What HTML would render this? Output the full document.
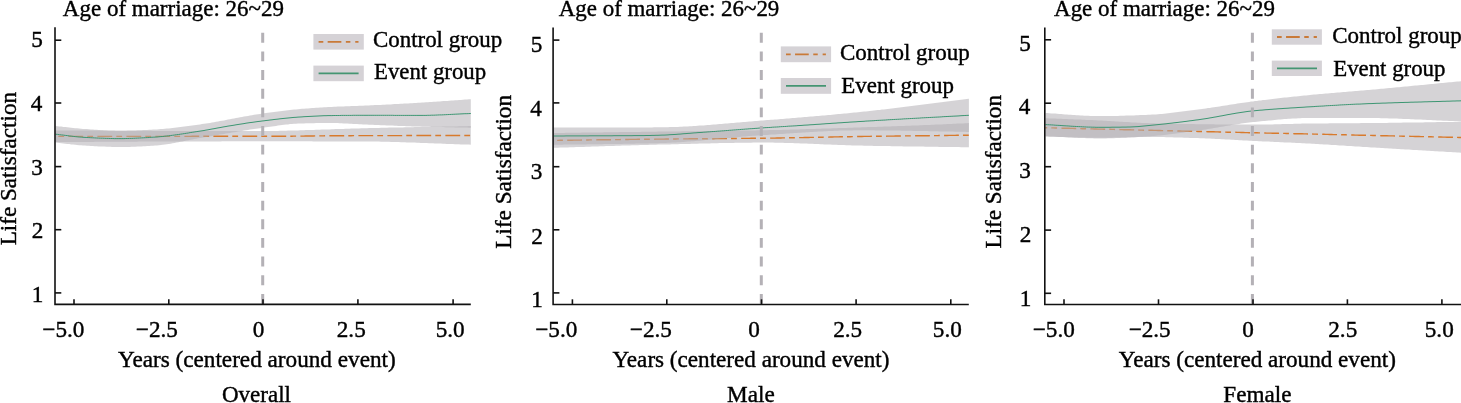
<!DOCTYPE html>
<html><head><meta charset="utf-8"><style>
html,body{margin:0;padding:0;background:#fff;overflow:hidden;}
svg{display:block;will-change:transform;}
text{fill:#000;stroke:#000;stroke-width:0.4px;font-family:"Liberation Serif",serif;}
</style></head><body>
<svg width="1461" height="403" viewBox="0 0 1461 403">
<rect width="1461" height="403" fill="#fff"/>
<polygon points="55.5,130.5 57.5,130.5 59.5,130.5 61.5,130.5 63.4,130.5 65.4,130.5 67.4,130.5 69.4,130.5 71.4,130.5 73.4,130.6 75.4,130.6 77.3,130.6 79.3,130.6 81.3,130.6 83.3,130.6 85.3,130.6 87.3,130.6 89.3,130.6 91.2,130.6 93.2,130.6 95.2,130.6 97.2,130.6 99.2,130.6 101.2,130.7 103.2,130.7 105.1,130.7 107.1,130.7 109.1,130.7 111.1,130.7 113.1,130.7 115.1,130.7 117.1,130.7 119.0,130.7 121.0,130.7 123.0,130.7 125.0,130.7 127.0,130.8 129.0,130.8 131.0,130.8 132.9,130.8 134.9,130.8 136.9,130.8 138.9,130.8 140.9,130.8 142.9,130.8 144.9,130.8 146.8,130.8 148.8,130.8 150.8,130.8 152.8,130.9 154.8,130.9 156.8,130.9 158.8,130.9 160.7,130.9 162.7,130.9 164.7,130.9 166.7,130.9 168.7,130.9 170.7,130.9 172.6,130.9 174.6,130.9 176.6,130.9 178.6,130.9 180.6,131.0 182.6,131.0 184.6,131.0 186.5,131.0 188.5,131.0 190.5,131.0 192.5,131.0 194.5,131.0 196.5,131.0 198.5,131.0 200.4,131.0 202.4,131.0 204.4,131.0 206.4,131.0 208.4,131.0 210.4,131.0 212.4,131.0 214.3,131.0 216.3,131.0 218.3,131.1 220.3,131.1 222.3,131.1 224.3,131.1 226.3,131.1 228.2,131.1 230.2,131.1 232.2,131.1 234.2,131.1 236.2,131.1 238.2,131.1 240.2,131.1 242.1,131.1 244.1,131.1 246.1,131.1 248.1,131.1 250.1,131.1 252.1,131.1 254.1,131.1 256.0,131.1 258.0,131.1 260.0,131.1 262.0,131.1 264.0,131.1 266.0,131.1 268.0,131.1 270.0,131.0 272.0,131.0 274.0,131.0 276.0,130.9 278.0,130.9 280.0,130.8 282.0,130.8 284.0,130.7 286.0,130.7 288.0,130.6 290.0,130.6 292.0,130.5 294.0,130.5 296.0,130.4 298.0,130.4 300.0,130.3 302.0,130.2 303.9,130.2 305.9,130.1 307.9,130.1 309.8,130.0 311.8,130.0 313.8,129.9 315.8,129.8 317.7,129.8 319.7,129.7 321.7,129.6 323.6,129.6 325.6,129.5 327.6,129.4 329.5,129.4 331.5,129.3 333.5,129.2 335.5,129.1 337.4,129.1 339.4,129.0 341.4,128.9 343.3,128.9 345.3,128.8 347.3,128.7 349.2,128.7 351.2,128.6 353.2,128.5 355.2,128.5 357.1,128.4 359.1,128.4 361.1,128.3 363.0,128.3 365.0,128.2 367.0,128.2 369.0,128.1 371.0,128.1 373.0,128.0 375.0,128.0 377.0,127.9 379.0,127.9 381.0,127.8 383.0,127.8 385.0,127.7 387.0,127.7 389.0,127.6 391.0,127.6 392.9,127.6 394.9,127.5 396.9,127.5 398.9,127.4 400.9,127.4 402.9,127.4 404.9,127.3 406.9,127.3 408.9,127.2 410.9,127.2 412.9,127.2 414.9,127.1 416.9,127.1 418.9,127.1 420.9,127.0 422.9,127.0 424.9,127.0 426.9,126.9 428.9,126.9 430.9,126.8 432.9,126.8 434.9,126.8 436.9,126.7 438.9,126.7 440.9,126.7 442.9,126.6 444.8,126.6 446.8,126.6 448.8,126.5 450.8,126.5 452.8,126.4 454.8,126.4 456.8,126.4 458.8,126.3 460.8,126.3 462.8,126.3 464.8,126.2 466.8,126.2 468.8,126.1 470.8,126.1 470.8,144.7 468.8,144.6 466.8,144.6 464.8,144.5 462.8,144.4 460.8,144.4 458.8,144.3 456.8,144.2 454.8,144.2 452.8,144.1 450.8,144.0 448.8,143.9 446.8,143.9 444.8,143.8 442.9,143.7 440.9,143.6 438.9,143.6 436.9,143.5 434.9,143.4 432.9,143.3 430.9,143.2 428.9,143.2 426.9,143.1 424.9,143.0 422.9,142.9 420.9,142.9 418.9,142.8 416.9,142.7 414.9,142.6 412.9,142.6 410.9,142.5 408.9,142.4 406.9,142.4 404.9,142.3 402.9,142.2 400.9,142.2 398.9,142.1 396.9,142.1 394.9,142.0 392.9,141.9 391.0,141.9 389.0,141.8 387.0,141.8 385.0,141.8 383.0,141.7 381.0,141.7 379.0,141.6 377.0,141.6 375.0,141.6 373.0,141.6 371.0,141.5 369.0,141.5 367.0,141.5 365.0,141.5 363.0,141.5 361.0,141.5 359.1,141.5 357.1,141.5 355.1,141.5 353.1,141.5 351.1,141.5 349.2,141.4 347.2,141.4 345.2,141.4 343.2,141.4 341.2,141.4 339.2,141.4 337.3,141.4 335.3,141.4 333.3,141.4 331.3,141.4 329.3,141.4 327.4,141.4 325.4,141.4 323.4,141.4 321.4,141.4 319.4,141.4 317.5,141.4 315.5,141.4 313.5,141.4 311.5,141.3 309.5,141.3 307.6,141.3 305.6,141.3 303.6,141.3 301.6,141.3 299.6,141.3 297.7,141.3 295.7,141.3 293.7,141.3 291.7,141.3 289.7,141.3 287.8,141.3 285.8,141.3 283.8,141.3 281.8,141.3 279.8,141.3 277.8,141.3 275.9,141.3 273.9,141.3 271.9,141.3 269.9,141.3 267.9,141.3 266.0,141.3 264.0,141.3 262.0,141.3 260.0,141.3 258.0,141.3 256.0,141.3 254.1,141.3 252.1,141.3 250.1,141.3 248.1,141.3 246.1,141.3 244.1,141.3 242.1,141.3 240.2,141.3 238.2,141.3 236.2,141.3 234.2,141.3 232.2,141.3 230.2,141.3 228.2,141.3 226.3,141.3 224.3,141.3 222.3,141.3 220.3,141.4 218.3,141.4 216.3,141.4 214.3,141.4 212.4,141.4 210.4,141.4 208.4,141.4 206.4,141.4 204.4,141.4 202.4,141.4 200.4,141.4 198.5,141.4 196.5,141.4 194.5,141.4 192.5,141.4 190.5,141.4 188.5,141.4 186.5,141.5 184.6,141.5 182.6,141.5 180.6,141.5 178.6,141.5 176.6,141.5 174.6,141.5 172.6,141.5 170.7,141.5 168.7,141.5 166.7,141.5 164.7,141.5 162.7,141.5 160.7,141.6 158.8,141.6 156.8,141.6 154.8,141.6 152.8,141.6 150.8,141.6 148.8,141.6 146.8,141.6 144.9,141.6 142.9,141.6 140.9,141.6 138.9,141.6 136.9,141.7 134.9,141.7 132.9,141.7 131.0,141.7 129.0,141.7 127.0,141.7 125.0,141.7 123.0,141.7 121.0,141.7 119.0,141.7 117.1,141.7 115.1,141.8 113.1,141.8 111.1,141.8 109.1,141.8 107.1,141.8 105.1,141.8 103.2,141.8 101.2,141.8 99.2,141.8 97.2,141.8 95.2,141.8 93.2,141.9 91.2,141.9 89.3,141.9 87.3,141.9 85.3,141.9 83.3,141.9 81.3,141.9 79.3,141.9 77.3,141.9 75.4,141.9 73.4,141.9 71.4,141.9 69.4,141.9 67.4,142.0 65.4,142.0 63.4,142.0 61.5,142.0 59.5,142.0 57.5,142.0 55.5,142.0" fill="#b1aeb3" fill-opacity="0.54"/>
<polyline points="55.5,136.4 57.5,136.4 59.5,136.4 61.5,136.4 63.4,136.4 65.4,136.4 67.4,136.4 69.4,136.4 71.4,136.4 73.4,136.4 75.4,136.4 77.3,136.4 79.3,136.4 81.3,136.4 83.3,136.4 85.3,136.4 87.3,136.4 89.3,136.4 91.2,136.4 93.2,136.4 95.2,136.4 97.2,136.4 99.2,136.4 101.2,136.4 103.2,136.4 105.1,136.4 107.1,136.4 109.1,136.4 111.1,136.4 113.1,136.4 115.1,136.4 117.1,136.4 119.0,136.4 121.0,136.4 123.0,136.4 125.0,136.4 127.0,136.4 129.0,136.4 131.0,136.4 132.9,136.4 134.9,136.4 136.9,136.4 138.9,136.4 140.9,136.4 142.9,136.4 144.9,136.4 146.8,136.4 148.8,136.4 150.8,136.4 152.8,136.4 154.8,136.4 156.8,136.4 158.8,136.4 160.7,136.4 162.7,136.4 164.7,136.4 166.7,136.4 168.7,136.4 170.7,136.4 172.6,136.4 174.6,136.4 176.6,136.4 178.6,136.4 180.6,136.4 182.6,136.4 184.6,136.4 186.5,136.4 188.5,136.4 190.5,136.4 192.5,136.3 194.5,136.3 196.5,136.3 198.5,136.3 200.4,136.3 202.4,136.3 204.4,136.3 206.4,136.3 208.4,136.3 210.4,136.3 212.4,136.3 214.3,136.3 216.3,136.3 218.3,136.3 220.3,136.3 222.3,136.3 224.3,136.3 226.3,136.3 228.2,136.3 230.2,136.3 232.2,136.3 234.2,136.3 236.2,136.3 238.2,136.3 240.2,136.3 242.1,136.3 244.1,136.3 246.1,136.3 248.1,136.3 250.1,136.3 252.1,136.3 254.1,136.3 256.0,136.3 258.0,136.3 260.0,136.3 262.0,136.3 264.0,136.3 266.0,136.3 267.9,136.3 269.9,136.3 271.9,136.3 273.9,136.3 275.9,136.3 277.8,136.2 279.8,136.2 281.8,136.2 283.8,136.2 285.8,136.2 287.8,136.2 289.7,136.2 291.7,136.2 293.7,136.1 295.7,136.1 297.7,136.1 299.6,136.1 301.6,136.1 303.6,136.1 305.6,136.0 307.6,136.0 309.5,136.0 311.5,136.0 313.5,136.0 315.5,135.9 317.5,135.9 319.4,135.9 321.4,135.9 323.4,135.9 325.4,135.8 327.4,135.8 329.3,135.8 331.3,135.8 333.3,135.8 335.3,135.8 337.3,135.7 339.2,135.7 341.2,135.7 343.2,135.7 345.2,135.7 347.2,135.7 349.2,135.7 351.1,135.7 353.1,135.6 355.1,135.6 357.1,135.6 359.1,135.6 361.0,135.6 363.0,135.6 365.0,135.6 367.0,135.6 369.0,135.6 371.0,135.6 373.0,135.6 375.0,135.6 377.0,135.6 379.0,135.6 381.0,135.6 383.0,135.6 385.0,135.6 387.0,135.6 389.0,135.6 391.0,135.6 392.9,135.6 394.9,135.6 396.9,135.6 398.9,135.6 400.9,135.6 402.9,135.6 404.9,135.6 406.9,135.5 408.9,135.5 410.9,135.5 412.9,135.5 414.9,135.5 416.9,135.5 418.9,135.5 420.9,135.5 422.9,135.5 424.9,135.5 426.9,135.5 428.9,135.5 430.9,135.5 432.9,135.5 434.9,135.5 436.9,135.5 438.9,135.5 440.9,135.5 442.9,135.5 444.8,135.5 446.8,135.5 448.8,135.5 450.8,135.5 452.8,135.5 454.8,135.5 456.8,135.5 458.8,135.5 460.8,135.5 462.8,135.5 464.8,135.5 466.8,135.5 468.8,135.5 470.8,135.5" fill="none" stroke="#d87a2c" stroke-width="1.4" stroke-dasharray="14.8 4.1 5.8 4.3" stroke-dashoffset="16.1"/>
<polygon points="55.5,126.0 57.5,126.2 59.4,126.4 61.4,126.6 63.4,126.9 65.3,127.1 67.3,127.3 69.3,127.5 71.2,127.7 73.2,127.9 75.2,128.2 77.1,128.3 79.1,128.5 81.1,128.7 83.0,128.9 85.0,129.0 86.9,129.1 88.9,129.3 90.8,129.4 92.8,129.5 94.7,129.7 96.7,129.8 98.6,129.9 100.6,130.0 102.5,130.1 104.4,130.2 106.4,130.3 108.3,130.4 110.3,130.5 112.2,130.6 114.2,130.6 116.1,130.7 118.1,130.7 120.0,130.7 121.9,130.7 123.9,130.7 125.8,130.7 127.8,130.6 129.7,130.6 131.7,130.5 133.6,130.5 135.6,130.4 137.5,130.3 139.4,130.2 141.4,130.2 143.3,130.1 145.3,130.0 147.2,129.9 149.2,129.8 151.1,129.7 153.1,129.6 155.0,129.5 157.0,129.4 158.9,129.3 160.9,129.1 162.8,129.0 164.8,128.8 166.7,128.6 168.7,128.4 170.7,128.2 172.6,128.0 174.6,127.8 176.5,127.5 178.5,127.3 180.4,127.1 182.4,126.8 184.3,126.5 186.3,126.3 188.3,126.0 190.2,125.7 192.2,125.5 194.1,125.2 196.1,124.9 198.0,124.7 200.0,124.4 202.0,124.1 204.0,123.8 206.0,123.5 208.0,123.2 210.0,122.9 212.0,122.5 214.0,122.2 216.0,121.8 218.0,121.5 220.0,121.1 222.0,120.8 224.0,120.4 226.0,120.0 228.0,119.6 230.0,119.2 232.0,118.8 234.0,118.5 236.0,118.1 238.0,117.7 240.0,117.3 242.0,116.9 244.0,116.6 246.0,116.2 248.0,115.9 250.0,115.5 252.0,115.2 254.0,114.8 256.0,114.5 258.0,114.2 260.0,113.9 262.0,113.6 264.0,113.3 266.0,113.0 268.0,112.8 270.0,112.5 272.0,112.2 274.0,111.9 276.0,111.7 278.0,111.4 280.0,111.2 282.0,110.9 284.0,110.7 286.0,110.4 288.0,110.2 290.0,110.0 292.0,109.8 294.0,109.6 296.0,109.4 298.0,109.2 300.0,109.0 302.0,108.8 304.0,108.7 306.0,108.5 308.0,108.4 310.0,108.2 312.0,108.1 314.0,107.9 316.0,107.8 318.0,107.7 320.0,107.6 322.0,107.4 324.0,107.3 326.0,107.2 328.0,107.1 330.0,107.0 331.9,106.9 333.9,106.8 335.8,106.7 337.8,106.6 339.7,106.6 341.7,106.5 343.6,106.4 345.6,106.3 347.5,106.3 349.4,106.2 351.4,106.1 353.3,106.1 355.3,106.0 357.2,105.9 359.2,105.8 361.1,105.8 363.1,105.7 365.0,105.6 367.0,105.5 368.9,105.4 370.9,105.3 372.9,105.2 374.8,105.1 376.8,105.0 378.8,105.0 380.7,104.9 382.7,104.8 384.6,104.7 386.6,104.6 388.6,104.5 390.5,104.4 392.5,104.3 394.5,104.1 396.4,104.0 398.4,103.9 400.4,103.8 402.3,103.7 404.3,103.6 406.2,103.5 408.2,103.4 410.2,103.3 412.1,103.2 414.1,103.0 416.1,102.9 418.0,102.8 420.0,102.7 422.0,102.6 423.9,102.5 425.9,102.3 427.8,102.2 429.8,102.1 431.7,102.0 433.7,101.8 435.6,101.7 437.6,101.6 439.5,101.4 441.5,101.3 443.4,101.1 445.4,101.0 447.4,100.9 449.3,100.7 451.3,100.6 453.2,100.4 455.2,100.3 457.1,100.2 459.1,100.0 461.0,99.9 463.0,99.7 464.9,99.6 466.9,99.5 468.8,99.3 470.8,99.2 470.8,127.7 468.8,127.7 466.9,127.6 464.9,127.6 463.0,127.5 461.0,127.5 459.1,127.5 457.1,127.4 455.2,127.4 453.2,127.3 451.3,127.3 449.3,127.3 447.4,127.2 445.4,127.2 443.4,127.1 441.5,127.1 439.5,127.1 437.6,127.0 435.6,127.0 433.7,126.9 431.7,126.9 429.8,126.8 427.8,126.8 425.9,126.8 423.9,126.7 422.0,126.7 420.0,126.6 418.0,126.5 416.1,126.5 414.1,126.4 412.1,126.4 410.2,126.3 408.2,126.2 406.2,126.2 404.3,126.1 402.3,126.0 400.4,125.9 398.4,125.9 396.4,125.8 394.5,125.7 392.5,125.6 390.5,125.6 388.6,125.5 386.6,125.4 384.6,125.3 382.7,125.2 380.7,125.2 378.8,125.1 376.8,125.0 374.8,124.9 372.9,124.8 370.9,124.7 368.9,124.7 367.0,124.6 365.0,124.5 363.1,124.4 361.1,124.3 359.2,124.2 357.2,124.1 355.3,124.0 353.3,123.9 351.4,123.8 349.4,123.7 347.5,123.6 345.6,123.5 343.6,123.4 341.7,123.3 339.7,123.2 337.8,123.1 335.8,123.1 333.9,123.0 331.9,123.0 330.0,123.0 328.0,123.0 326.0,123.0 324.0,123.0 322.0,123.0 320.0,123.1 318.0,123.1 316.0,123.1 314.0,123.2 312.0,123.2 310.0,123.2 308.0,123.3 306.0,123.3 304.0,123.4 302.0,123.4 300.0,123.5 298.0,123.6 296.0,123.7 294.0,123.8 292.0,124.0 290.0,124.1 288.0,124.4 286.0,124.6 284.0,124.8 282.0,125.1 280.0,125.3 278.0,125.6 276.0,125.9 274.0,126.2 272.0,126.5 270.0,126.8 268.0,127.1 266.0,127.3 264.0,127.6 262.0,127.9 260.0,128.2 258.0,128.4 256.0,128.7 254.0,129.0 252.0,129.3 250.0,129.6 248.0,129.9 246.0,130.2 244.0,130.6 242.0,130.9 240.0,131.2 238.0,131.5 236.0,131.9 234.0,132.2 232.0,132.5 230.0,132.9 228.0,133.2 226.0,133.6 224.0,133.9 222.0,134.2 220.0,134.6 218.0,134.9 216.0,135.3 214.0,135.6 212.0,136.0 210.0,136.3 208.0,136.7 206.0,137.0 204.0,137.3 202.0,137.7 200.0,138.0 198.0,138.3 196.1,138.7 194.1,139.0 192.2,139.4 190.2,139.8 188.3,140.2 186.3,140.6 184.3,141.0 182.4,141.4 180.4,141.8 178.5,142.2 176.5,142.6 174.6,142.9 172.6,143.3 170.7,143.7 168.7,144.0 166.7,144.3 164.8,144.6 162.8,144.8 160.9,145.1 158.9,145.3 157.0,145.5 155.0,145.6 153.1,145.7 151.1,145.8 149.2,146.0 147.2,146.1 145.3,146.2 143.3,146.3 141.4,146.4 139.4,146.5 137.5,146.6 135.6,146.7 133.6,146.7 131.7,146.8 129.7,146.9 127.8,146.9 125.8,146.9 123.9,147.0 121.9,147.0 120.0,147.0 118.1,147.0 116.1,147.0 114.2,146.9 112.2,146.9 110.3,146.8 108.3,146.8 106.4,146.7 104.4,146.6 102.5,146.6 100.6,146.5 98.6,146.4 96.7,146.3 94.7,146.2 92.8,146.1 90.8,145.9 88.9,145.8 86.9,145.7 85.0,145.6 83.0,145.5 81.1,145.3 79.1,145.2 77.1,145.0 75.2,144.8 73.2,144.6 71.2,144.4 69.3,144.1 67.3,143.9 65.3,143.7 63.4,143.5 61.4,143.2 59.4,143.0 57.5,142.8 55.5,142.6" fill="#b1aeb3" fill-opacity="0.54"/>
<polyline points="55.5,134.2 57.5,134.4 59.4,134.7 61.4,134.9 63.4,135.1 65.3,135.4 67.3,135.6 69.3,135.9 71.2,136.1 73.2,136.4 75.2,136.6 77.1,136.8 79.1,137.0 81.1,137.1 83.0,137.3 85.0,137.4 86.9,137.5 88.9,137.6 90.8,137.7 92.8,137.8 94.7,137.9 96.7,138.0 98.6,138.1 100.6,138.2 102.5,138.2 104.4,138.3 106.4,138.4 108.3,138.4 110.3,138.5 112.2,138.5 114.2,138.6 116.1,138.6 118.1,138.6 120.0,138.6 121.9,138.6 123.9,138.6 125.8,138.5 127.8,138.5 129.7,138.4 131.7,138.4 133.6,138.3 135.6,138.2 137.5,138.1 139.4,138.0 141.4,137.9 143.3,137.8 145.3,137.7 147.2,137.6 149.2,137.5 151.1,137.3 153.1,137.2 155.0,137.1 157.0,137.0 158.9,136.8 160.9,136.6 162.8,136.5 164.8,136.2 166.7,136.0 168.7,135.8 170.7,135.5 172.6,135.3 174.6,135.0 176.5,134.7 178.5,134.5 180.4,134.2 182.4,133.9 184.3,133.6 186.3,133.3 188.3,133.0 190.2,132.6 192.2,132.3 194.1,132.0 196.1,131.7 198.0,131.4 200.0,131.1 202.0,130.8 204.0,130.5 206.0,130.1 208.0,129.8 210.0,129.4 212.0,129.0 214.0,128.7 216.0,128.3 218.0,127.9 220.0,127.6 222.0,127.2 224.0,126.8 226.0,126.5 228.0,126.1 230.0,125.8 232.0,125.5 234.0,125.2 236.0,124.8 238.0,124.5 240.0,124.2 242.0,123.9 244.0,123.6 246.0,123.2 248.0,122.9 250.0,122.6 252.0,122.4 254.0,122.1 256.0,121.8 258.0,121.5 260.0,121.3 262.0,121.0 264.0,120.8 266.0,120.5 268.0,120.3 270.0,120.0 272.0,119.8 274.0,119.5 276.0,119.3 278.0,119.1 280.0,118.8 282.0,118.6 284.0,118.4 286.0,118.2 288.0,118.0 290.0,117.8 292.0,117.6 294.0,117.4 296.0,117.3 298.0,117.1 300.0,117.0 302.0,116.9 304.0,116.7 306.0,116.6 308.0,116.5 310.0,116.4 312.0,116.3 314.0,116.2 316.0,116.1 318.0,116.0 320.0,115.9 322.0,115.8 324.0,115.7 326.0,115.7 328.0,115.6 330.0,115.6 331.9,115.6 333.9,115.5 335.8,115.5 337.8,115.5 339.7,115.5 341.7,115.4 343.6,115.4 345.6,115.4 347.5,115.4 349.4,115.4 351.4,115.4 353.3,115.3 355.3,115.3 357.2,115.3 359.2,115.3 361.1,115.3 363.1,115.3 365.0,115.3 367.0,115.3 368.9,115.3 370.9,115.3 372.9,115.3 374.8,115.3 376.8,115.3 378.8,115.3 380.7,115.3 382.7,115.3 384.6,115.3 386.6,115.3 388.6,115.3 390.5,115.3 392.5,115.3 394.5,115.4 396.4,115.4 398.4,115.4 400.4,115.4 402.3,115.4 404.3,115.4 406.2,115.4 408.2,115.4 410.2,115.4 412.1,115.4 414.1,115.4 416.1,115.4 418.0,115.4 420.0,115.4 422.0,115.4 423.9,115.4 425.9,115.4 427.8,115.3 429.8,115.3 431.7,115.2 433.7,115.2 435.6,115.1 437.6,115.0 439.5,114.9 441.5,114.9 443.4,114.8 445.4,114.7 447.4,114.6 449.3,114.5 451.3,114.4 453.2,114.3 455.2,114.2 457.1,114.1 459.1,114.0 461.0,113.9 463.0,113.8 464.9,113.7 466.9,113.7 468.8,113.6 470.8,113.5" fill="none" stroke="#3c9672" stroke-width="1.0"/>
<line x1="262.7" y1="32.8" x2="262.7" y2="304.4" stroke="#b4b1b6" stroke-width="3" stroke-dasharray="9.9 8.75"/>
<path d="M55.0,27.2 V304.4 H470.8" fill="none" stroke="#111" stroke-width="1.6"/>
<line x1="55.0" y1="40.2" x2="61.3" y2="40.2" stroke="#111" stroke-width="1.6"/>
<line x1="55.0" y1="103.0" x2="61.3" y2="103.0" stroke="#111" stroke-width="1.6"/>
<line x1="55.0" y1="166.6" x2="61.3" y2="166.6" stroke="#111" stroke-width="1.6"/>
<line x1="55.0" y1="229.7" x2="61.3" y2="229.7" stroke="#111" stroke-width="1.6"/>
<line x1="55.0" y1="292.9" x2="61.3" y2="292.9" stroke="#111" stroke-width="1.6"/>
<line x1="74.0" y1="304.4" x2="74.0" y2="299.2" stroke="#111" stroke-width="1.6"/>
<line x1="168.8" y1="304.4" x2="168.8" y2="299.2" stroke="#111" stroke-width="1.6"/>
<line x1="263.0" y1="304.4" x2="263.0" y2="299.2" stroke="#111" stroke-width="1.6"/>
<line x1="357.9" y1="304.4" x2="357.9" y2="299.2" stroke="#111" stroke-width="1.6"/>
<line x1="453.1" y1="304.4" x2="453.1" y2="299.2" stroke="#111" stroke-width="1.6"/>
<text x="31.33" y="47.18" font-size="23.20">5</text>
<text x="30.75" y="110.56" font-size="23.20">4</text>
<text x="31.33" y="174.54" font-size="23.20">3</text>
<text x="31.68" y="238.26" font-size="23.20">2</text>
<text x="31.79" y="301.80" font-size="23.20">1</text>
<text x="42.33" y="336.70" font-size="23.20">−5.0</text>
<text x="135.83" y="336.70" font-size="23.20">−2.5</text>
<text x="252.70" y="336.70" font-size="23.20">0</text>
<text x="336.74" y="336.70" font-size="23.20">2.5</text>
<text x="435.67" y="336.70" font-size="23.20">5.0</text>
<text x="62.87" y="15.80" font-size="22.99">Age of marriage: 26~29</text>
<rect x="313.4" y="34.0" width="50.4" height="15.6" fill="#d5d2d6"/>
<line x1="318.59999999999997" y1="41.8" x2="358.5" y2="41.8" stroke="#c97a38" stroke-width="1.8" stroke-dasharray="4.7 4.35 13.7 4.5 4.5 4.9 14"/>
<rect x="313.4" y="65.6" width="50.4" height="15.6" fill="#d5d2d6"/>
<line x1="318.59999999999997" y1="73.39999999999999" x2="358.59999999999997" y2="73.39999999999999" stroke="#449572" stroke-width="1.7"/>
<text x="372.98" y="46.80" font-size="22.91">Control group</text>
<text x="374.02" y="79.00" font-size="22.81">Event group</text>
<text x="117.97" y="367.30" font-size="23.19">Years (centered around event)</text>
<text x="221.98" y="402.00" font-size="23.03">Overall</text>
<text transform="translate(15.90,245.29) rotate(-90)" x="0" y="0" font-size="23.10">Life Satisfaction</text>
<polygon points="554.0,133.0 556.0,133.0 558.0,132.9 560.0,132.9 562.0,132.9 564.0,132.9 566.0,132.8 568.0,132.8 570.0,132.8 572.0,132.8 574.0,132.7 576.0,132.7 578.0,132.7 580.0,132.7 582.0,132.6 584.0,132.6 586.0,132.6 588.0,132.6 590.0,132.5 592.0,132.5 594.0,132.5 596.0,132.4 598.0,132.4 600.0,132.4 602.0,132.4 604.0,132.3 606.0,132.3 608.0,132.3 610.0,132.3 612.0,132.2 614.0,132.2 616.0,132.2 618.0,132.2 620.0,132.1 622.0,132.1 624.0,132.1 626.0,132.1 628.0,132.0 630.0,132.0 632.0,132.0 634.0,131.9 636.0,131.9 638.0,131.9 640.0,131.9 642.0,131.8 644.0,131.8 646.0,131.8 648.0,131.8 650.0,131.7 652.0,131.7 654.0,131.7 656.0,131.7 658.0,131.6 660.0,131.6 662.0,131.6 664.0,131.5 665.9,131.5 667.9,131.5 669.9,131.5 671.9,131.4 673.9,131.4 675.8,131.4 677.8,131.4 679.8,131.4 681.8,131.3 683.8,131.3 685.8,131.3 687.7,131.3 689.7,131.2 691.7,131.2 693.7,131.2 695.7,131.2 697.6,131.1 699.6,131.1 701.6,131.1 703.6,131.1 705.6,131.1 707.5,131.0 709.5,131.0 711.5,131.0 713.5,131.0 715.5,130.9 717.5,130.9 719.4,130.9 721.4,130.9 723.4,130.8 725.4,130.8 727.4,130.8 729.3,130.8 731.3,130.7 733.3,130.7 735.3,130.7 737.3,130.6 739.2,130.6 741.2,130.6 743.2,130.6 745.2,130.5 747.2,130.5 749.2,130.5 751.1,130.4 753.1,130.4 755.1,130.4 757.1,130.3 759.1,130.3 761.0,130.3 763.0,130.2 765.0,130.2 767.0,130.2 769.0,130.1 770.9,130.1 772.9,130.0 774.9,130.0 776.9,130.0 778.9,129.9 780.8,129.9 782.8,129.8 784.8,129.8 786.8,129.7 788.8,129.7 790.7,129.6 792.7,129.6 794.7,129.5 796.7,129.4 798.6,129.4 800.6,129.3 802.6,129.3 804.6,129.2 806.6,129.1 808.5,129.1 810.5,129.0 812.5,129.0 814.5,128.9 816.5,128.8 818.4,128.8 820.4,128.7 822.4,128.6 824.4,128.6 826.4,128.5 828.3,128.4 830.3,128.4 832.3,128.3 834.3,128.3 836.2,128.2 838.2,128.1 840.2,128.1 842.2,128.0 844.2,127.9 846.1,127.9 848.1,127.8 850.1,127.7 852.1,127.7 854.1,127.6 856.0,127.5 858.0,127.5 860.0,127.4 862.0,127.3 864.0,127.3 866.0,127.2 868.0,127.1 870.0,127.1 872.0,127.0 874.0,126.9 876.0,126.9 878.0,126.8 880.0,126.7 882.0,126.7 884.0,126.6 886.0,126.5 888.0,126.5 890.0,126.4 892.0,126.3 894.0,126.3 896.0,126.2 898.0,126.1 900.0,126.1 902.0,126.0 904.0,125.9 906.0,125.8 908.0,125.8 910.0,125.7 912.0,125.6 914.0,125.5 916.0,125.5 918.0,125.4 920.0,125.3 922.0,125.2 923.9,125.1 925.9,125.1 927.8,125.0 929.8,124.9 931.7,124.8 933.7,124.7 935.6,124.6 937.6,124.5 939.6,124.5 941.5,124.4 943.5,124.3 945.4,124.2 947.4,124.1 949.3,124.0 951.3,123.9 953.3,123.8 955.2,123.7 957.2,123.6 959.1,123.5 961.1,123.5 963.0,123.4 965.0,123.3 966.9,123.2 968.9,123.1 968.9,147.3 966.9,147.3 964.9,147.2 963.0,147.2 961.0,147.2 959.0,147.1 957.0,147.1 955.0,147.1 953.1,147.1 951.1,147.0 949.1,147.0 947.1,147.0 945.1,147.0 943.2,146.9 941.2,146.9 939.2,146.9 937.2,146.8 935.2,146.8 933.3,146.8 931.3,146.8 929.3,146.7 927.3,146.7 925.3,146.7 923.4,146.6 921.4,146.6 919.4,146.6 917.4,146.6 915.4,146.5 913.5,146.5 911.5,146.5 909.5,146.5 907.5,146.4 905.5,146.4 903.6,146.4 901.6,146.3 899.6,146.3 897.6,146.3 895.6,146.2 893.7,146.2 891.7,146.2 889.7,146.1 887.7,146.1 885.7,146.1 883.8,146.0 881.8,146.0 879.8,146.0 877.8,145.9 875.8,145.9 873.9,145.9 871.9,145.8 869.9,145.8 867.9,145.8 865.9,145.7 864.0,145.7 862.0,145.6 860.0,145.6 858.0,145.6 856.0,145.5 854.1,145.5 852.1,145.4 850.1,145.3 848.1,145.3 846.1,145.2 844.2,145.1 842.2,145.1 840.2,145.0 838.2,144.9 836.2,144.8 834.3,144.8 832.3,144.7 830.3,144.6 828.3,144.5 826.4,144.4 824.4,144.4 822.4,144.3 820.4,144.2 818.4,144.1 816.5,144.0 814.5,143.9 812.5,143.8 810.5,143.8 808.5,143.7 806.6,143.6 804.6,143.5 802.6,143.4 800.6,143.4 798.6,143.3 796.7,143.2 794.7,143.2 792.7,143.1 790.7,143.0 788.8,143.0 786.8,142.9 784.8,142.9 782.8,142.8 780.8,142.8 778.9,142.7 776.9,142.7 774.9,142.7 772.9,142.6 770.9,142.6 769.0,142.6 767.0,142.6 765.0,142.6 763.0,142.6 761.0,142.6 759.1,142.6 757.1,142.6 755.1,142.6 753.1,142.6 751.1,142.7 749.2,142.7 747.2,142.7 745.2,142.7 743.2,142.7 741.2,142.8 739.2,142.8 737.3,142.8 735.3,142.8 733.3,142.9 731.3,142.9 729.3,142.9 727.4,143.0 725.4,143.0 723.4,143.1 721.4,143.1 719.4,143.1 717.5,143.2 715.5,143.2 713.5,143.3 711.5,143.3 709.5,143.4 707.5,143.4 705.6,143.5 703.6,143.5 701.6,143.6 699.6,143.6 697.6,143.7 695.7,143.7 693.7,143.8 691.7,143.8 689.7,143.9 687.7,143.9 685.8,144.0 683.8,144.0 681.8,144.1 679.8,144.1 677.8,144.2 675.8,144.2 673.9,144.3 671.9,144.3 669.9,144.4 667.9,144.4 665.9,144.5 664.0,144.5 662.0,144.6 660.0,144.6 658.0,144.6 656.0,144.7 654.0,144.7 652.0,144.8 650.0,144.8 648.0,144.9 646.0,145.0 644.0,145.0 642.0,145.1 640.0,145.1 638.0,145.2 636.0,145.2 634.0,145.3 632.0,145.3 630.0,145.4 628.0,145.5 626.0,145.5 624.0,145.6 622.0,145.6 620.0,145.7 618.0,145.8 616.0,145.8 614.0,145.9 612.0,146.0 610.0,146.0 608.0,146.1 606.0,146.1 604.0,146.2 602.0,146.3 600.0,146.3 598.0,146.4 596.0,146.5 594.0,146.5 592.0,146.6 590.0,146.7 588.0,146.7 586.0,146.8 584.0,146.9 582.0,146.9 580.0,147.0 578.0,147.0 576.0,147.1 574.0,147.2 572.0,147.2 570.0,147.3 568.0,147.4 566.0,147.4 564.0,147.5 562.0,147.6 560.0,147.6 558.0,147.7 556.0,147.7 554.0,147.8" fill="#b1aeb3" fill-opacity="0.54"/>
<polyline points="554.0,140.4 556.0,140.4 558.0,140.4 560.0,140.3 562.0,140.3 564.0,140.3 566.0,140.3 568.0,140.2 570.0,140.2 572.0,140.2 574.0,140.1 576.0,140.1 578.0,140.1 580.0,140.1 582.0,140.0 584.0,140.0 586.0,140.0 588.0,140.0 590.0,139.9 592.0,139.9 594.0,139.9 596.0,139.9 598.0,139.8 600.0,139.8 602.0,139.8 604.0,139.8 606.0,139.7 608.0,139.7 610.0,139.7 612.0,139.7 614.0,139.6 616.0,139.6 618.0,139.6 620.0,139.6 622.0,139.5 624.0,139.5 626.0,139.5 628.0,139.5 630.0,139.4 632.0,139.4 634.0,139.4 636.0,139.4 638.0,139.3 640.0,139.3 642.0,139.3 644.0,139.3 646.0,139.2 648.0,139.2 650.0,139.2 652.0,139.2 654.0,139.2 656.0,139.1 658.0,139.1 660.0,139.1 662.0,139.1 664.0,139.1 665.9,139.0 667.9,139.0 669.9,139.0 671.9,139.0 673.9,139.0 675.8,139.0 677.8,138.9 679.8,138.9 681.8,138.9 683.8,138.9 685.8,138.9 687.7,138.9 689.7,138.8 691.7,138.8 693.7,138.8 695.7,138.8 697.6,138.8 699.6,138.8 701.6,138.8 703.6,138.7 705.6,138.7 707.5,138.7 709.5,138.7 711.5,138.7 713.5,138.7 715.5,138.6 717.5,138.6 719.4,138.6 721.4,138.6 723.4,138.6 725.4,138.6 727.4,138.6 729.3,138.5 731.3,138.5 733.3,138.5 735.3,138.5 737.3,138.5 739.2,138.5 741.2,138.4 743.2,138.4 745.2,138.4 747.2,138.4 749.2,138.4 751.1,138.3 753.1,138.3 755.1,138.3 757.1,138.3 759.1,138.3 761.0,138.2 763.0,138.2 765.0,138.2 767.0,138.2 769.0,138.2 770.9,138.1 772.9,138.1 774.9,138.1 776.9,138.0 778.9,138.0 780.8,138.0 782.8,137.9 784.8,137.9 786.8,137.9 788.8,137.8 790.7,137.8 792.7,137.8 794.7,137.7 796.7,137.7 798.6,137.7 800.6,137.6 802.6,137.6 804.6,137.5 806.6,137.5 808.5,137.5 810.5,137.4 812.5,137.4 814.5,137.3 816.5,137.3 818.4,137.3 820.4,137.2 822.4,137.2 824.4,137.1 826.4,137.1 828.3,137.1 830.3,137.0 832.3,137.0 834.3,136.9 836.2,136.9 838.2,136.9 840.2,136.8 842.2,136.8 844.2,136.8 846.1,136.7 848.1,136.7 850.1,136.7 852.1,136.6 854.1,136.6 856.0,136.6 858.0,136.5 860.0,136.5 862.0,136.5 864.0,136.4 865.9,136.4 867.9,136.4 869.9,136.4 871.9,136.3 873.9,136.3 875.8,136.3 877.8,136.3 879.8,136.2 881.8,136.2 883.8,136.2 885.7,136.2 887.7,136.1 889.7,136.1 891.7,136.1 893.7,136.1 895.6,136.0 897.6,136.0 899.6,136.0 901.6,136.0 903.6,135.9 905.5,135.9 907.5,135.9 909.5,135.9 911.5,135.9 913.5,135.8 915.4,135.8 917.4,135.8 919.4,135.8 921.4,135.7 923.4,135.7 925.3,135.7 927.3,135.7 929.3,135.7 931.3,135.6 933.3,135.6 935.2,135.6 937.2,135.6 939.2,135.5 941.2,135.5 943.2,135.5 945.1,135.5 947.1,135.5 949.1,135.4 951.1,135.4 953.1,135.4 955.0,135.4 957.0,135.3 959.0,135.3 961.0,135.3 963.0,135.3 964.9,135.2 966.9,135.2 968.9,135.2" fill="none" stroke="#d87a2c" stroke-width="1.4" stroke-dasharray="14.8 4.1 5.8 4.3" stroke-dashoffset="15.8"/>
<polygon points="554.0,127.6 556.0,127.6 558.0,127.6 560.0,127.6 562.0,127.6 564.0,127.6 566.0,127.6 568.0,127.6 570.0,127.6 572.0,127.6 574.0,127.6 576.0,127.6 578.0,127.5 580.0,127.5 582.0,127.5 584.0,127.5 586.0,127.5 588.0,127.5 590.0,127.5 592.0,127.5 594.0,127.5 596.0,127.5 598.0,127.5 600.0,127.5 602.0,127.5 604.0,127.5 606.0,127.5 608.0,127.5 610.0,127.5 612.0,127.5 614.0,127.5 616.0,127.5 618.0,127.5 620.0,127.5 622.0,127.5 624.0,127.4 626.0,127.4 628.0,127.4 630.0,127.4 632.0,127.4 634.0,127.4 636.0,127.4 638.0,127.4 640.0,127.4 642.0,127.4 644.0,127.4 646.0,127.4 648.0,127.4 650.0,127.4 652.0,127.4 654.0,127.3 656.0,127.3 658.0,127.3 660.0,127.3 662.0,127.3 664.0,127.3 665.9,127.2 667.9,127.2 669.9,127.1 671.9,127.1 673.9,127.0 675.8,126.9 677.8,126.9 679.8,126.8 681.8,126.7 683.8,126.6 685.8,126.5 687.7,126.4 689.7,126.3 691.7,126.2 693.7,126.0 695.7,125.9 697.6,125.8 699.6,125.6 701.6,125.5 703.6,125.4 705.6,125.2 707.5,125.1 709.5,124.9 711.5,124.8 713.5,124.6 715.5,124.5 717.5,124.3 719.4,124.1 721.4,124.0 723.4,123.8 725.4,123.6 727.4,123.5 729.3,123.3 731.3,123.1 733.3,122.9 735.3,122.8 737.3,122.6 739.2,122.4 741.2,122.3 743.2,122.1 745.2,121.9 747.2,121.7 749.2,121.6 751.1,121.4 753.1,121.2 755.1,121.1 757.1,120.9 759.1,120.8 761.0,120.6 763.0,120.5 765.0,120.3 767.0,120.1 769.0,120.0 770.9,119.8 772.9,119.7 774.9,119.5 776.9,119.4 778.9,119.2 780.8,119.1 782.8,118.9 784.8,118.8 786.8,118.6 788.8,118.4 790.7,118.3 792.7,118.1 794.7,118.0 796.7,117.8 798.6,117.6 800.6,117.5 802.6,117.3 804.6,117.1 806.6,117.0 808.5,116.8 810.5,116.6 812.5,116.5 814.5,116.3 816.5,116.1 818.4,115.9 820.4,115.8 822.4,115.6 824.4,115.4 826.4,115.2 828.3,115.0 830.3,114.9 832.3,114.7 834.3,114.5 836.2,114.3 838.2,114.1 840.2,113.9 842.2,113.7 844.2,113.6 846.1,113.4 848.1,113.2 850.1,113.0 852.1,112.8 854.1,112.6 856.0,112.4 858.0,112.2 860.0,112.0 862.0,111.8 864.0,111.6 865.9,111.4 867.9,111.2 869.9,111.0 871.9,110.7 873.9,110.5 875.8,110.3 877.8,110.1 879.8,109.9 881.8,109.6 883.8,109.4 885.7,109.2 887.7,108.9 889.7,108.7 891.7,108.5 893.7,108.2 895.6,108.0 897.6,107.8 899.6,107.5 901.6,107.3 903.6,107.0 905.5,106.8 907.5,106.5 909.5,106.3 911.5,106.0 913.5,105.8 915.4,105.5 917.4,105.3 919.4,105.0 921.4,104.8 923.4,104.5 925.3,104.3 927.3,104.0 929.3,103.8 931.3,103.5 933.3,103.3 935.2,103.0 937.2,102.8 939.2,102.5 941.2,102.3 943.2,102.0 945.1,101.8 947.1,101.5 949.1,101.3 951.1,101.0 953.1,100.8 955.0,100.5 957.0,100.3 959.0,100.0 961.0,99.8 963.0,99.5 964.9,99.3 966.9,99.0 968.9,98.8 968.9,131.9 966.9,131.9 964.9,131.8 963.0,131.8 961.0,131.8 959.0,131.7 957.0,131.7 955.0,131.7 953.1,131.6 951.1,131.6 949.1,131.6 947.1,131.5 945.1,131.5 943.2,131.5 941.2,131.4 939.2,131.4 937.2,131.3 935.2,131.3 933.3,131.3 931.3,131.2 929.3,131.2 927.3,131.1 925.3,131.1 923.4,131.1 921.4,131.0 919.4,131.0 917.4,131.0 915.4,130.9 913.5,130.9 911.5,130.8 909.5,130.8 907.5,130.8 905.5,130.7 903.6,130.7 901.6,130.7 899.6,130.6 897.6,130.6 895.6,130.6 893.7,130.6 891.7,130.5 889.7,130.5 887.7,130.5 885.7,130.5 883.8,130.4 881.8,130.4 879.8,130.4 877.8,130.4 875.8,130.4 873.9,130.3 871.9,130.3 869.9,130.3 867.9,130.3 865.9,130.3 864.0,130.3 862.0,130.3 860.0,130.3 858.0,130.3 856.0,130.3 854.1,130.3 852.1,130.4 850.1,130.4 848.1,130.4 846.1,130.5 844.2,130.5 842.2,130.6 840.2,130.6 838.2,130.7 836.2,130.8 834.3,130.8 832.3,130.9 830.3,131.0 828.3,131.1 826.4,131.2 824.4,131.3 822.4,131.4 820.4,131.5 818.4,131.6 816.5,131.7 814.5,131.8 812.5,131.9 810.5,132.1 808.5,132.2 806.6,132.3 804.6,132.4 802.6,132.5 800.6,132.7 798.6,132.8 796.7,132.9 794.7,133.1 792.7,133.2 790.7,133.3 788.8,133.5 786.8,133.6 784.8,133.7 782.8,133.9 780.8,134.0 778.9,134.1 776.9,134.3 774.9,134.4 772.9,134.5 770.9,134.6 769.0,134.8 767.0,134.9 765.0,135.0 763.0,135.1 761.0,135.3 759.1,135.4 757.1,135.5 755.1,135.7 753.1,135.8 751.1,136.0 749.2,136.1 747.2,136.3 745.2,136.5 743.2,136.6 741.2,136.8 739.2,137.0 737.3,137.2 735.3,137.3 733.3,137.5 731.3,137.7 729.3,137.9 727.4,138.1 725.4,138.3 723.4,138.5 721.4,138.6 719.4,138.8 717.5,139.0 715.5,139.2 713.5,139.4 711.5,139.6 709.5,139.8 707.5,140.0 705.6,140.1 703.6,140.3 701.6,140.5 699.6,140.7 697.6,140.8 695.7,141.0 693.7,141.2 691.7,141.3 689.7,141.5 687.7,141.6 685.8,141.8 683.8,141.9 681.8,142.0 679.8,142.2 677.8,142.3 675.8,142.4 673.9,142.5 671.9,142.6 669.9,142.7 667.9,142.8 665.9,142.9 664.0,143.0 662.0,143.0 660.0,143.1 658.0,143.2 656.0,143.2 654.0,143.3 652.0,143.3 650.0,143.3 648.0,143.4 646.0,143.4 644.0,143.5 642.0,143.5 640.0,143.6 638.0,143.6 636.0,143.6 634.0,143.7 632.0,143.7 630.0,143.7 628.0,143.8 626.0,143.8 624.0,143.8 622.0,143.9 620.0,143.9 618.0,143.9 616.0,144.0 614.0,144.0 612.0,144.0 610.0,144.0 608.0,144.1 606.0,144.1 604.0,144.1 602.0,144.2 600.0,144.2 598.0,144.2 596.0,144.2 594.0,144.3 592.0,144.3 590.0,144.3 588.0,144.3 586.0,144.4 584.0,144.4 582.0,144.4 580.0,144.4 578.0,144.5 576.0,144.5 574.0,144.5 572.0,144.5 570.0,144.6 568.0,144.6 566.0,144.6 564.0,144.6 562.0,144.7 560.0,144.7 558.0,144.7 556.0,144.8 554.0,144.8" fill="#b1aeb3" fill-opacity="0.54"/>
<polyline points="554.0,136.0 556.0,136.0 558.0,136.0 560.0,136.0 562.0,136.0 564.0,136.0 566.0,135.9 568.0,135.9 570.0,135.9 572.0,135.9 574.0,135.9 576.0,135.9 578.0,135.9 580.0,135.9 582.0,135.9 584.0,135.9 586.0,135.9 588.0,135.9 590.0,135.8 592.0,135.8 594.0,135.8 596.0,135.8 598.0,135.8 600.0,135.8 602.0,135.8 604.0,135.8 606.0,135.8 608.0,135.8 610.0,135.8 612.0,135.8 614.0,135.7 616.0,135.7 618.0,135.7 620.0,135.7 622.0,135.7 624.0,135.7 626.0,135.7 628.0,135.7 630.0,135.7 632.0,135.7 634.0,135.6 636.0,135.6 638.0,135.6 640.0,135.6 642.0,135.6 644.0,135.6 646.0,135.5 648.0,135.5 650.0,135.5 652.0,135.4 654.0,135.4 656.0,135.3 658.0,135.3 660.0,135.2 662.0,135.1 664.0,135.1 666.0,135.0 668.0,134.9 670.0,134.7 672.0,134.6 674.0,134.5 676.0,134.4 678.0,134.2 680.0,134.1 682.0,133.9 684.0,133.7 686.0,133.6 688.0,133.4 690.0,133.3 692.0,133.1 694.0,132.9 696.0,132.8 698.0,132.6 700.0,132.5 702.0,132.4 703.9,132.2 705.9,132.1 707.9,131.9 709.8,131.8 711.8,131.6 713.8,131.5 715.7,131.4 717.7,131.2 719.7,131.1 721.6,130.9 723.6,130.8 725.6,130.6 727.5,130.5 729.5,130.3 731.5,130.2 733.5,130.0 735.4,129.9 737.4,129.7 739.4,129.6 741.3,129.4 743.3,129.3 745.3,129.1 747.2,129.0 749.2,128.8 751.2,128.7 753.1,128.6 755.1,128.4 757.1,128.3 759.0,128.1 761.0,128.0 763.0,127.9 764.9,127.7 766.9,127.6 768.8,127.5 770.8,127.4 772.7,127.2 774.6,127.1 776.6,127.0 778.5,126.9 780.5,126.7 782.5,126.6 784.4,126.5 786.4,126.4 788.3,126.2 790.2,126.1 792.2,126.0 794.1,125.9 796.1,125.8 798.0,125.6 800.0,125.5 802.0,125.4 804.0,125.2 806.0,125.1 808.0,125.0 810.0,124.8 812.0,124.7 814.0,124.6 816.0,124.4 818.0,124.3 820.0,124.2 822.0,124.0 824.0,123.9 826.0,123.7 828.0,123.6 830.0,123.5 832.0,123.3 834.0,123.2 836.0,123.1 838.0,122.9 840.0,122.8 842.0,122.7 844.0,122.5 846.0,122.4 848.0,122.3 850.0,122.1 852.0,122.0 854.0,121.9 856.0,121.8 858.0,121.6 860.0,121.5 862.0,121.4 864.0,121.3 865.9,121.1 867.9,121.0 869.9,120.9 871.9,120.8 873.9,120.7 875.8,120.5 877.8,120.4 879.8,120.3 881.8,120.2 883.8,120.1 885.7,120.0 887.7,119.8 889.7,119.7 891.7,119.6 893.7,119.5 895.6,119.4 897.6,119.3 899.6,119.2 901.6,119.1 903.6,118.9 905.5,118.8 907.5,118.7 909.5,118.6 911.5,118.5 913.5,118.4 915.4,118.3 917.4,118.2 919.4,118.1 921.4,117.9 923.4,117.8 925.3,117.7 927.3,117.6 929.3,117.5 931.3,117.4 933.3,117.3 935.2,117.2 937.2,117.1 939.2,117.0 941.2,116.9 943.2,116.7 945.1,116.6 947.1,116.5 949.1,116.4 951.1,116.3 953.1,116.2 955.0,116.1 957.0,116.0 959.0,115.9 961.0,115.7 963.0,115.6 964.9,115.5 966.9,115.4 968.9,115.3" fill="none" stroke="#3c9672" stroke-width="1.0"/>
<line x1="761.3" y1="32.8" x2="761.3" y2="304.5" stroke="#b4b1b6" stroke-width="3" stroke-dasharray="9.9 8.75"/>
<path d="M553.1,27.6 V304.5 H968.8" fill="none" stroke="#111" stroke-width="1.6"/>
<line x1="553.1" y1="40.1" x2="559.4" y2="40.1" stroke="#111" stroke-width="1.6"/>
<line x1="553.1" y1="102.9" x2="559.4" y2="102.9" stroke="#111" stroke-width="1.6"/>
<line x1="553.1" y1="166.7" x2="559.4" y2="166.7" stroke="#111" stroke-width="1.6"/>
<line x1="553.1" y1="229.8" x2="559.4" y2="229.8" stroke="#111" stroke-width="1.6"/>
<line x1="553.1" y1="292.9" x2="559.4" y2="292.9" stroke="#111" stroke-width="1.6"/>
<line x1="572.4" y1="304.5" x2="572.4" y2="299.3" stroke="#111" stroke-width="1.6"/>
<line x1="666.8" y1="304.5" x2="666.8" y2="299.3" stroke="#111" stroke-width="1.6"/>
<line x1="761.5" y1="304.5" x2="761.5" y2="299.3" stroke="#111" stroke-width="1.6"/>
<line x1="856.1" y1="304.5" x2="856.1" y2="299.3" stroke="#111" stroke-width="1.6"/>
<line x1="950.8" y1="304.5" x2="950.8" y2="299.3" stroke="#111" stroke-width="1.6"/>
<text x="530.83" y="51.98" font-size="23.20">5</text>
<text x="530.25" y="115.66" font-size="23.20">4</text>
<text x="530.83" y="179.44" font-size="23.20">3</text>
<text x="531.18" y="243.66" font-size="23.20">2</text>
<text x="531.29" y="307.20" font-size="23.20">1</text>
<text x="535.23" y="336.90" font-size="23.20">−5.0</text>
<text x="629.83" y="336.90" font-size="23.20">−2.5</text>
<text x="748.30" y="336.90" font-size="23.20">0</text>
<text x="833.14" y="336.90" font-size="23.20">2.5</text>
<text x="932.87" y="336.90" font-size="23.20">5.0</text>
<text x="558.77" y="15.80" font-size="22.93">Age of marriage: 26~29</text>
<rect x="780.8" y="46.4" width="50.3" height="15.8" fill="#d5d2d6"/>
<line x1="786.0" y1="54.3" x2="825.9" y2="54.3" stroke="#c97a38" stroke-width="1.8" stroke-dasharray="4.7 4.35 13.7 4.5 4.5 4.9 14"/>
<rect x="780.8" y="78.0" width="50.3" height="15.8" fill="#d5d2d6"/>
<line x1="786.0" y1="85.9" x2="826.0" y2="85.9" stroke="#449572" stroke-width="1.7"/>
<text x="839.98" y="60.00" font-size="23.02">Control group</text>
<text x="841.31" y="92.60" font-size="22.93">Event group</text>
<text x="612.47" y="367.30" font-size="23.14">Years (centered around event)</text>
<text x="727.10" y="402.00" font-size="23.22">Male</text>
<text transform="translate(510.60,248.69) rotate(-90)" x="0" y="0" font-size="23.16">Life Satisfaction</text>
<polygon points="1045.5,118.2 1047.4,118.3 1049.4,118.4 1051.3,118.4 1053.3,118.5 1055.2,118.6 1057.2,118.7 1059.1,118.8 1061.1,118.8 1063.0,118.9 1065.0,119.0 1066.9,119.1 1068.9,119.2 1070.8,119.2 1072.8,119.3 1074.7,119.4 1076.6,119.5 1078.6,119.6 1080.5,119.6 1082.5,119.7 1084.4,119.8 1086.4,119.9 1088.3,120.0 1090.3,120.1 1092.2,120.1 1094.2,120.2 1096.1,120.3 1098.1,120.4 1100.0,120.5 1102.0,120.6 1104.0,120.7 1106.0,120.8 1108.0,120.9 1110.0,121.0 1112.0,121.2 1114.0,121.3 1116.0,121.4 1118.0,121.5 1120.0,121.7 1122.0,121.8 1124.0,121.9 1126.0,122.0 1128.0,122.1 1130.0,122.3 1132.0,122.4 1134.0,122.5 1136.0,122.6 1138.0,122.7 1140.0,122.8 1142.0,122.9 1144.0,123.0 1146.0,123.1 1148.0,123.1 1150.0,123.2 1152.0,123.3 1154.0,123.3 1156.0,123.4 1158.0,123.4 1160.0,123.5 1162.0,123.5 1164.0,123.6 1166.0,123.6 1168.0,123.7 1170.0,123.7 1172.0,123.8 1174.0,123.8 1176.0,123.8 1178.0,123.9 1180.0,123.9 1182.0,123.9 1184.0,124.0 1186.0,124.0 1188.0,124.0 1190.0,124.1 1192.0,124.1 1194.0,124.1 1196.0,124.2 1198.0,124.2 1200.0,124.2 1202.0,124.2 1203.9,124.2 1205.9,124.3 1207.9,124.3 1209.8,124.3 1211.8,124.3 1213.8,124.3 1215.7,124.4 1217.7,124.4 1219.6,124.4 1221.6,124.4 1223.6,124.4 1225.5,124.5 1227.5,124.5 1229.5,124.5 1231.4,124.5 1233.4,124.5 1235.4,124.5 1237.3,124.5 1239.3,124.6 1241.2,124.6 1243.2,124.6 1245.2,124.6 1247.1,124.6 1249.1,124.6 1251.1,124.6 1253.0,124.6 1255.0,124.6 1257.0,124.6 1258.9,124.6 1260.9,124.6 1262.9,124.5 1264.8,124.5 1266.8,124.5 1268.8,124.5 1270.7,124.4 1272.7,124.4 1274.6,124.3 1276.6,124.3 1278.6,124.2 1280.5,124.2 1282.5,124.1 1284.5,124.1 1286.4,124.0 1288.4,124.0 1290.4,123.9 1292.3,123.9 1294.3,123.8 1296.2,123.8 1298.2,123.7 1300.2,123.7 1302.1,123.6 1304.1,123.6 1306.1,123.6 1308.0,123.5 1310.0,123.5 1312.0,123.5 1313.9,123.5 1315.9,123.4 1317.9,123.4 1319.8,123.4 1321.8,123.4 1323.8,123.4 1325.7,123.4 1327.7,123.4 1329.6,123.3 1331.6,123.3 1333.6,123.3 1335.5,123.3 1337.5,123.3 1339.5,123.3 1341.4,123.3 1343.4,123.3 1345.4,123.2 1347.3,123.2 1349.3,123.2 1351.2,123.2 1353.2,123.2 1355.2,123.2 1357.1,123.2 1359.1,123.2 1361.1,123.1 1363.0,123.1 1365.0,123.1 1367.0,123.1 1369.0,123.1 1371.0,123.0 1373.0,123.0 1375.0,123.0 1377.0,123.0 1379.0,123.0 1381.0,122.9 1383.0,122.9 1385.0,122.9 1387.0,122.9 1389.0,122.8 1391.0,122.8 1393.0,122.8 1395.0,122.8 1397.0,122.7 1399.0,122.7 1401.0,122.7 1403.0,122.6 1405.0,122.6 1407.0,122.6 1409.0,122.6 1411.0,122.5 1413.0,122.5 1415.0,122.5 1417.0,122.4 1419.0,122.4 1421.0,122.4 1423.0,122.4 1425.0,122.3 1427.0,122.3 1429.0,122.3 1431.0,122.2 1433.0,122.2 1435.0,122.2 1437.0,122.1 1439.0,122.1 1441.0,122.1 1443.0,122.1 1445.0,122.0 1447.0,122.0 1449.0,122.0 1451.0,121.9 1453.0,121.9 1455.0,121.9 1457.0,121.9 1459.0,121.8 1461.0,121.8 1461.0,152.7 1459.0,152.6 1457.0,152.5 1455.0,152.3 1453.0,152.2 1451.0,152.1 1449.0,152.0 1447.0,151.9 1445.0,151.8 1443.0,151.6 1441.0,151.5 1439.0,151.4 1437.0,151.3 1435.0,151.2 1433.0,151.0 1431.0,150.9 1429.0,150.8 1427.0,150.7 1425.0,150.6 1423.0,150.5 1421.0,150.3 1419.0,150.2 1417.0,150.1 1415.0,150.0 1413.0,149.9 1411.0,149.7 1409.0,149.6 1407.0,149.5 1405.0,149.4 1403.0,149.3 1401.0,149.2 1399.0,149.0 1397.0,148.9 1395.0,148.8 1393.0,148.7 1391.0,148.6 1389.0,148.4 1387.0,148.3 1385.0,148.2 1383.0,148.1 1381.0,148.0 1379.0,147.8 1377.0,147.7 1375.0,147.6 1373.0,147.5 1371.0,147.4 1369.0,147.2 1367.0,147.1 1365.0,147.0 1363.0,146.9 1361.1,146.8 1359.1,146.6 1357.1,146.5 1355.2,146.4 1353.2,146.3 1351.2,146.1 1349.3,146.0 1347.3,145.9 1345.4,145.8 1343.4,145.6 1341.4,145.5 1339.5,145.4 1337.5,145.3 1335.5,145.1 1333.6,145.0 1331.6,144.9 1329.6,144.8 1327.7,144.6 1325.7,144.5 1323.8,144.4 1321.8,144.3 1319.8,144.2 1317.9,144.0 1315.9,143.9 1313.9,143.8 1312.0,143.7 1310.0,143.6 1308.0,143.5 1306.1,143.4 1304.1,143.3 1302.1,143.2 1300.2,143.1 1298.2,143.0 1296.2,142.9 1294.3,142.8 1292.3,142.7 1290.4,142.6 1288.4,142.5 1286.4,142.4 1284.5,142.4 1282.5,142.3 1280.5,142.2 1278.6,142.1 1276.6,142.0 1274.6,141.9 1272.7,141.8 1270.7,141.7 1268.8,141.6 1266.8,141.6 1264.8,141.5 1262.9,141.4 1260.9,141.3 1258.9,141.2 1257.0,141.1 1255.0,141.0 1253.0,140.9 1251.1,140.8 1249.1,140.7 1247.1,140.6 1245.2,140.5 1243.2,140.4 1241.2,140.3 1239.3,140.2 1237.3,140.0 1235.4,139.9 1233.4,139.8 1231.4,139.7 1229.5,139.6 1227.5,139.5 1225.5,139.4 1223.6,139.3 1221.6,139.2 1219.6,139.1 1217.7,139.0 1215.7,138.9 1213.8,138.8 1211.8,138.7 1209.8,138.6 1207.9,138.5 1205.9,138.4 1203.9,138.3 1202.0,138.3 1200.0,138.2 1198.0,138.1 1196.0,138.1 1194.0,138.0 1192.0,137.9 1190.0,137.9 1188.0,137.8 1186.0,137.7 1184.0,137.7 1182.0,137.6 1180.0,137.5 1178.0,137.5 1176.0,137.4 1174.0,137.4 1172.0,137.3 1170.0,137.3 1168.0,137.2 1166.0,137.2 1164.0,137.1 1162.0,137.1 1160.0,137.1 1158.0,137.0 1156.0,137.0 1154.0,137.0 1152.0,137.0 1150.0,137.0 1148.0,137.0 1146.0,137.0 1144.0,137.0 1142.0,137.1 1140.0,137.1 1138.0,137.1 1136.0,137.2 1134.0,137.2 1132.0,137.2 1130.0,137.3 1128.0,137.3 1126.0,137.4 1124.0,137.4 1122.0,137.5 1120.0,137.5 1118.0,137.6 1116.0,137.6 1114.0,137.6 1112.0,137.7 1110.0,137.7 1108.0,137.7 1106.0,137.8 1104.0,137.8 1102.0,137.8 1100.0,137.8 1098.1,137.8 1096.1,137.8 1094.2,137.8 1092.2,137.8 1090.3,137.7 1088.3,137.7 1086.4,137.7 1084.4,137.6 1082.5,137.6 1080.5,137.5 1078.6,137.5 1076.6,137.5 1074.7,137.4 1072.8,137.4 1070.8,137.3 1068.9,137.2 1066.9,137.2 1065.0,137.1 1063.0,137.1 1061.1,137.0 1059.1,137.0 1057.2,136.9 1055.2,136.8 1053.3,136.8 1051.3,136.7 1049.4,136.7 1047.4,136.6 1045.5,136.6" fill="#b1aeb3" fill-opacity="0.54"/>
<polyline points="1045.5,127.7 1047.4,127.8 1049.4,127.8 1051.3,127.9 1053.3,127.9 1055.2,128.0 1057.2,128.0 1059.1,128.1 1061.1,128.1 1063.0,128.2 1065.0,128.2 1066.9,128.3 1068.9,128.3 1070.8,128.4 1072.8,128.4 1074.7,128.5 1076.6,128.5 1078.6,128.6 1080.5,128.6 1082.5,128.7 1084.4,128.7 1086.4,128.8 1088.3,128.8 1090.3,128.9 1092.2,128.9 1094.2,129.0 1096.1,129.0 1098.1,129.1 1100.0,129.1 1102.0,129.1 1104.0,129.2 1106.0,129.2 1108.0,129.3 1110.0,129.3 1112.0,129.4 1114.0,129.4 1116.0,129.5 1118.0,129.5 1120.0,129.6 1122.0,129.6 1124.0,129.7 1126.0,129.7 1128.0,129.8 1130.0,129.8 1132.0,129.9 1134.0,129.9 1136.0,130.0 1138.0,130.0 1140.0,130.1 1142.0,130.1 1144.0,130.2 1146.0,130.2 1148.0,130.3 1150.0,130.3 1152.0,130.3 1154.0,130.4 1156.0,130.4 1158.0,130.5 1160.0,130.5 1162.0,130.6 1164.0,130.6 1166.0,130.7 1168.0,130.7 1170.0,130.8 1172.0,130.8 1174.0,130.9 1176.0,130.9 1178.0,131.0 1180.0,131.0 1182.0,131.1 1184.0,131.1 1186.0,131.2 1188.0,131.2 1190.0,131.3 1192.0,131.3 1194.0,131.4 1196.0,131.4 1198.0,131.5 1200.0,131.5 1202.0,131.5 1203.9,131.6 1205.9,131.6 1207.9,131.7 1209.8,131.7 1211.8,131.8 1213.8,131.8 1215.7,131.9 1217.7,131.9 1219.6,132.0 1221.6,132.0 1223.6,132.1 1225.5,132.1 1227.5,132.2 1229.5,132.2 1231.4,132.3 1233.4,132.3 1235.4,132.3 1237.3,132.4 1239.3,132.4 1241.2,132.5 1243.2,132.5 1245.2,132.6 1247.1,132.6 1249.1,132.7 1251.1,132.7 1253.0,132.8 1255.0,132.8 1257.0,132.8 1258.9,132.9 1260.9,132.9 1262.9,133.0 1264.8,133.0 1266.8,133.1 1268.8,133.1 1270.7,133.1 1272.7,133.2 1274.6,133.2 1276.6,133.3 1278.6,133.3 1280.5,133.4 1282.5,133.4 1284.5,133.4 1286.4,133.5 1288.4,133.5 1290.4,133.6 1292.3,133.6 1294.3,133.7 1296.2,133.7 1298.2,133.7 1300.2,133.8 1302.1,133.8 1304.1,133.9 1306.1,133.9 1308.0,134.0 1310.0,134.0 1312.0,134.0 1313.9,134.1 1315.9,134.1 1317.9,134.2 1319.8,134.2 1321.8,134.3 1323.8,134.3 1325.7,134.4 1327.7,134.4 1329.6,134.5 1331.6,134.5 1333.6,134.6 1335.5,134.6 1337.5,134.6 1339.5,134.7 1341.4,134.7 1343.4,134.8 1345.4,134.8 1347.3,134.9 1349.3,134.9 1351.2,135.0 1353.2,135.0 1355.2,135.1 1357.1,135.1 1359.1,135.2 1361.1,135.2 1363.0,135.3 1365.0,135.3 1367.0,135.3 1369.0,135.4 1371.0,135.4 1373.0,135.5 1375.0,135.5 1377.0,135.6 1379.0,135.6 1381.0,135.7 1383.0,135.7 1385.0,135.8 1387.0,135.8 1389.0,135.9 1391.0,135.9 1393.0,135.9 1395.0,136.0 1397.0,136.0 1399.0,136.1 1401.0,136.1 1403.0,136.2 1405.0,136.2 1407.0,136.3 1409.0,136.3 1411.0,136.4 1413.0,136.4 1415.0,136.5 1417.0,136.5 1419.0,136.5 1421.0,136.6 1423.0,136.6 1425.0,136.7 1427.0,136.7 1429.0,136.8 1431.0,136.8 1433.0,136.9 1435.0,136.9 1437.0,137.0 1439.0,137.0 1441.0,137.0 1443.0,137.1 1445.0,137.1 1447.0,137.2 1449.0,137.2 1451.0,137.3 1453.0,137.3 1455.0,137.4 1457.0,137.4 1459.0,137.5 1461.0,137.5" fill="none" stroke="#d87a2c" stroke-width="1.4" stroke-dasharray="14.8 4.1 5.8 4.3" stroke-dashoffset="13.1"/>
<polygon points="1045.5,113.0 1047.4,113.1 1049.4,113.2 1051.3,113.4 1053.3,113.5 1055.2,113.6 1057.2,113.8 1059.1,113.9 1061.1,114.1 1063.0,114.2 1065.0,114.4 1066.9,114.5 1068.9,114.7 1070.8,114.8 1072.8,114.9 1074.7,115.1 1076.6,115.2 1078.6,115.3 1080.5,115.5 1082.5,115.6 1084.4,115.7 1086.4,115.8 1088.3,115.8 1090.3,115.9 1092.2,116.0 1094.2,116.0 1096.1,116.1 1098.1,116.1 1100.0,116.1 1102.0,116.1 1104.0,116.1 1106.0,116.1 1108.0,116.1 1110.0,116.0 1112.0,116.0 1114.0,116.0 1116.0,115.9 1118.0,115.9 1120.0,115.8 1122.0,115.8 1124.0,115.7 1126.0,115.6 1128.0,115.6 1130.0,115.5 1132.0,115.4 1134.0,115.4 1136.0,115.3 1138.0,115.2 1140.0,115.1 1142.0,115.0 1144.0,115.0 1146.0,114.9 1148.0,114.8 1150.0,114.7 1152.0,114.6 1154.0,114.5 1156.0,114.4 1158.0,114.2 1160.0,114.0 1162.0,113.9 1164.0,113.7 1166.0,113.5 1168.0,113.3 1170.0,113.0 1172.0,112.8 1174.0,112.6 1176.0,112.3 1178.0,112.1 1180.0,111.8 1182.0,111.6 1184.0,111.3 1186.0,111.0 1188.0,110.8 1190.0,110.5 1192.0,110.2 1194.0,110.0 1196.0,109.7 1198.0,109.5 1200.0,109.2 1202.0,108.9 1203.9,108.7 1205.9,108.4 1207.9,108.1 1209.8,107.9 1211.8,107.6 1213.8,107.3 1215.7,107.0 1217.7,106.7 1219.6,106.4 1221.6,106.1 1223.6,105.8 1225.5,105.5 1227.5,105.2 1229.5,104.8 1231.4,104.5 1233.4,104.2 1235.4,103.9 1237.3,103.6 1239.3,103.3 1241.2,103.0 1243.2,102.7 1245.2,102.4 1247.1,102.2 1249.1,101.9 1251.1,101.6 1253.0,101.4 1255.0,101.1 1257.0,100.9 1258.9,100.6 1260.9,100.4 1262.9,100.1 1264.8,99.9 1266.8,99.7 1268.8,99.4 1270.7,99.2 1272.7,99.0 1274.6,98.7 1276.6,98.5 1278.6,98.3 1280.5,98.1 1282.5,97.8 1284.5,97.6 1286.4,97.4 1288.4,97.2 1290.4,97.0 1292.3,96.8 1294.3,96.6 1296.2,96.4 1298.2,96.2 1300.2,96.0 1302.1,95.8 1304.1,95.6 1306.1,95.4 1308.0,95.2 1310.0,95.0 1312.0,94.8 1313.9,94.6 1315.9,94.4 1317.9,94.3 1319.8,94.1 1321.8,93.9 1323.8,93.7 1325.7,93.6 1327.7,93.4 1329.6,93.2 1331.6,93.1 1333.6,92.9 1335.5,92.8 1337.5,92.6 1339.5,92.4 1341.4,92.3 1343.4,92.1 1345.4,92.0 1347.3,91.8 1349.3,91.6 1351.2,91.5 1353.2,91.3 1355.2,91.1 1357.1,91.0 1359.1,90.8 1361.1,90.6 1363.0,90.5 1365.0,90.3 1367.0,90.1 1369.0,89.9 1371.0,89.8 1373.0,89.6 1375.0,89.4 1377.0,89.2 1379.0,89.0 1381.0,88.8 1383.0,88.7 1385.0,88.5 1387.0,88.3 1389.0,88.1 1391.0,87.9 1393.0,87.7 1395.0,87.5 1397.0,87.3 1399.0,87.2 1401.0,87.0 1403.0,86.8 1405.0,86.6 1407.0,86.4 1409.0,86.2 1411.0,86.0 1413.0,85.8 1415.0,85.6 1417.0,85.4 1419.0,85.2 1421.0,85.0 1423.0,84.9 1425.0,84.7 1427.0,84.5 1429.0,84.3 1431.0,84.1 1433.0,83.9 1435.0,83.7 1437.0,83.5 1439.0,83.3 1441.0,83.1 1443.0,82.9 1445.0,82.7 1447.0,82.5 1449.0,82.3 1451.0,82.2 1453.0,82.0 1455.0,81.8 1457.0,81.6 1459.0,81.4 1461.0,81.2 1461.0,121.4 1459.0,121.3 1457.0,121.3 1455.0,121.2 1453.0,121.1 1451.0,121.0 1449.0,120.9 1447.0,120.8 1445.0,120.8 1443.0,120.7 1441.0,120.6 1439.0,120.5 1437.0,120.4 1435.0,120.3 1433.0,120.2 1431.0,120.1 1429.0,120.0 1427.0,119.9 1425.0,119.8 1423.0,119.7 1421.0,119.6 1419.0,119.5 1417.0,119.5 1415.0,119.4 1413.0,119.3 1411.0,119.2 1409.0,119.1 1407.0,119.0 1405.0,118.9 1403.0,118.9 1401.0,118.8 1399.0,118.7 1397.0,118.6 1395.0,118.6 1393.0,118.5 1391.0,118.4 1389.0,118.4 1387.0,118.3 1385.0,118.3 1383.0,118.2 1381.0,118.2 1379.0,118.1 1377.0,118.1 1375.0,118.1 1373.0,118.0 1371.0,118.0 1369.0,118.0 1367.0,118.0 1365.0,118.0 1363.0,118.0 1361.1,118.0 1359.1,118.0 1357.1,118.0 1355.2,118.0 1353.2,118.0 1351.2,118.0 1349.3,118.0 1347.3,118.0 1345.4,118.0 1343.4,118.0 1341.4,118.0 1339.5,118.0 1337.5,118.0 1335.5,118.0 1333.6,118.0 1331.6,118.0 1329.6,118.0 1327.7,118.0 1325.7,118.0 1323.8,118.0 1321.8,118.0 1319.8,118.0 1317.9,118.0 1315.9,118.0 1313.9,118.0 1312.0,118.0 1310.0,118.0 1308.0,118.0 1306.1,118.0 1304.1,118.1 1302.1,118.1 1300.2,118.2 1298.2,118.3 1296.2,118.4 1294.3,118.5 1292.3,118.6 1290.4,118.7 1288.4,118.8 1286.4,119.0 1284.5,119.1 1282.5,119.3 1280.5,119.5 1278.6,119.6 1276.6,119.8 1274.6,120.0 1272.7,120.2 1270.7,120.4 1268.8,120.5 1266.8,120.7 1264.8,120.9 1262.9,121.1 1260.9,121.3 1258.9,121.5 1257.0,121.7 1255.0,121.9 1253.0,122.1 1251.1,122.3 1249.1,122.5 1247.1,122.8 1245.2,123.0 1243.2,123.3 1241.2,123.6 1239.3,123.9 1237.3,124.2 1235.4,124.5 1233.4,124.8 1231.4,125.1 1229.5,125.5 1227.5,125.8 1225.5,126.1 1223.6,126.5 1221.6,126.8 1219.6,127.1 1217.7,127.5 1215.7,127.8 1213.8,128.1 1211.8,128.4 1209.8,128.8 1207.9,129.1 1205.9,129.4 1203.9,129.7 1202.0,129.9 1200.0,130.2 1198.0,130.5 1196.0,130.7 1194.0,131.0 1192.0,131.3 1190.0,131.6 1188.0,131.9 1186.0,132.1 1184.0,132.4 1182.0,132.7 1180.0,133.0 1178.0,133.2 1176.0,133.5 1174.0,133.8 1172.0,134.0 1170.0,134.3 1168.0,134.5 1166.0,134.7 1164.0,135.0 1162.0,135.2 1160.0,135.4 1158.0,135.6 1156.0,135.7 1154.0,135.9 1152.0,136.1 1150.0,136.2 1148.0,136.3 1146.0,136.5 1144.0,136.6 1142.0,136.7 1140.0,136.8 1138.0,137.0 1136.0,137.1 1134.0,137.2 1132.0,137.3 1130.0,137.4 1128.0,137.5 1126.0,137.7 1124.0,137.8 1122.0,137.8 1120.0,137.9 1118.0,138.0 1116.0,138.1 1114.0,138.2 1112.0,138.2 1110.0,138.3 1108.0,138.3 1106.0,138.4 1104.0,138.4 1102.0,138.4 1100.0,138.4 1098.1,138.4 1096.1,138.4 1094.2,138.4 1092.2,138.3 1090.3,138.3 1088.3,138.2 1086.4,138.2 1084.4,138.1 1082.5,138.0 1080.5,137.9 1078.6,137.9 1076.6,137.8 1074.7,137.7 1072.8,137.6 1070.8,137.5 1068.9,137.4 1066.9,137.3 1065.0,137.2 1063.0,137.1 1061.1,137.0 1059.1,136.9 1057.2,136.8 1055.2,136.7 1053.3,136.6 1051.3,136.5 1049.4,136.4 1047.4,136.3 1045.5,136.2" fill="#b1aeb3" fill-opacity="0.54"/>
<polyline points="1045.5,124.6 1047.4,124.7 1049.4,124.8 1051.3,124.9 1053.3,125.0 1055.2,125.2 1057.2,125.3 1059.1,125.4 1061.1,125.5 1063.0,125.7 1065.0,125.8 1066.9,125.9 1068.9,126.0 1070.8,126.2 1072.8,126.3 1074.7,126.4 1076.6,126.5 1078.6,126.6 1080.5,126.7 1082.5,126.8 1084.4,126.9 1086.4,127.0 1088.3,127.1 1090.3,127.1 1092.2,127.2 1094.2,127.2 1096.1,127.3 1098.1,127.3 1100.0,127.3 1102.0,127.3 1104.0,127.3 1106.0,127.3 1108.0,127.3 1110.0,127.3 1112.0,127.2 1114.0,127.2 1116.0,127.2 1118.0,127.2 1120.0,127.2 1122.0,127.1 1124.0,127.1 1126.0,127.1 1128.0,127.0 1130.0,127.0 1132.0,126.9 1134.0,126.8 1136.0,126.7 1138.0,126.6 1140.0,126.4 1142.0,126.2 1144.0,126.0 1146.0,125.8 1148.0,125.6 1150.0,125.4 1152.0,125.2 1154.0,125.0 1156.0,124.8 1158.0,124.6 1160.0,124.4 1162.0,124.2 1164.0,124.0 1166.0,123.8 1168.0,123.5 1170.0,123.3 1172.0,123.1 1174.0,122.8 1176.0,122.6 1178.0,122.4 1180.0,122.1 1182.0,121.9 1184.0,121.6 1186.0,121.4 1188.0,121.1 1190.0,120.8 1192.0,120.6 1194.0,120.3 1196.0,120.0 1198.0,119.8 1200.0,119.5 1202.0,119.2 1204.0,118.9 1206.0,118.6 1208.0,118.3 1210.0,117.9 1212.0,117.6 1214.0,117.2 1216.0,116.9 1218.0,116.5 1220.0,116.1 1222.0,115.8 1224.0,115.4 1226.0,115.0 1228.0,114.6 1230.0,114.3 1232.0,113.9 1234.0,113.6 1236.0,113.2 1238.0,112.9 1240.0,112.6 1242.0,112.3 1244.0,112.0 1246.0,111.7 1248.0,111.4 1250.0,111.2 1252.0,111.0 1254.0,110.8 1256.0,110.6 1258.0,110.4 1260.0,110.2 1262.0,110.1 1264.0,109.9 1266.0,109.7 1268.0,109.6 1270.0,109.4 1272.0,109.3 1274.0,109.1 1276.0,109.0 1278.0,108.8 1280.0,108.7 1282.0,108.6 1284.0,108.4 1286.0,108.3 1288.0,108.2 1290.0,108.0 1292.0,107.9 1294.0,107.8 1296.0,107.7 1298.0,107.5 1300.0,107.4 1302.0,107.3 1304.0,107.2 1306.0,107.0 1308.0,106.9 1310.0,106.8 1312.0,106.7 1313.9,106.6 1315.9,106.4 1317.9,106.3 1319.8,106.2 1321.8,106.1 1323.8,106.0 1325.7,105.8 1327.7,105.7 1329.6,105.6 1331.6,105.5 1333.6,105.4 1335.5,105.3 1337.5,105.2 1339.5,105.0 1341.4,104.9 1343.4,104.8 1345.4,104.7 1347.3,104.6 1349.3,104.5 1351.2,104.4 1353.2,104.3 1355.2,104.2 1357.1,104.1 1359.1,104.1 1361.1,104.0 1363.0,103.9 1365.0,103.8 1367.0,103.7 1369.0,103.6 1371.0,103.6 1373.0,103.5 1375.0,103.4 1377.0,103.3 1379.0,103.3 1381.0,103.2 1383.0,103.1 1385.0,103.1 1387.0,103.0 1389.0,102.9 1391.0,102.9 1393.0,102.8 1395.0,102.7 1397.0,102.7 1399.0,102.6 1401.0,102.5 1403.0,102.5 1405.0,102.4 1407.0,102.4 1409.0,102.3 1411.0,102.2 1413.0,102.2 1415.0,102.1 1417.0,102.1 1419.0,102.0 1421.0,102.0 1423.0,101.9 1425.0,101.8 1427.0,101.8 1429.0,101.7 1431.0,101.7 1433.0,101.6 1435.0,101.6 1437.0,101.5 1439.0,101.5 1441.0,101.4 1443.0,101.3 1445.0,101.3 1447.0,101.2 1449.0,101.2 1451.0,101.1 1453.0,101.0 1455.0,101.0 1457.0,100.9 1459.0,100.9 1461.0,100.8" fill="none" stroke="#3c9672" stroke-width="1.0"/>
<line x1="1252.4" y1="32.8" x2="1252.4" y2="304.5" stroke="#b4b1b6" stroke-width="3" stroke-dasharray="9.9 8.75"/>
<path d="M1044.8,27.5 V304.5 H1461" fill="none" stroke="#111" stroke-width="1.6"/>
<line x1="1044.8" y1="39.8" x2="1051.1" y2="39.8" stroke="#111" stroke-width="1.6"/>
<line x1="1044.8" y1="103.2" x2="1051.1" y2="103.2" stroke="#111" stroke-width="1.6"/>
<line x1="1044.8" y1="166.7" x2="1051.1" y2="166.7" stroke="#111" stroke-width="1.6"/>
<line x1="1044.8" y1="230.1" x2="1051.1" y2="230.1" stroke="#111" stroke-width="1.6"/>
<line x1="1044.8" y1="293.3" x2="1051.1" y2="293.3" stroke="#111" stroke-width="1.6"/>
<line x1="1064.0" y1="304.5" x2="1064.0" y2="299.3" stroke="#111" stroke-width="1.6"/>
<line x1="1158.5" y1="304.5" x2="1158.5" y2="299.3" stroke="#111" stroke-width="1.6"/>
<line x1="1253.0" y1="304.5" x2="1253.0" y2="299.3" stroke="#111" stroke-width="1.6"/>
<line x1="1347.4" y1="304.5" x2="1347.4" y2="299.3" stroke="#111" stroke-width="1.6"/>
<line x1="1441.9" y1="304.5" x2="1441.9" y2="299.3" stroke="#111" stroke-width="1.6"/>
<text x="1019.33" y="50.68" font-size="23.20">5</text>
<text x="1018.75" y="114.16" font-size="23.20">4</text>
<text x="1019.33" y="178.14" font-size="23.20">3</text>
<text x="1019.68" y="241.76" font-size="23.20">2</text>
<text x="1019.79" y="305.60" font-size="23.20">1</text>
<text x="1032.73" y="336.90" font-size="23.20">−5.0</text>
<text x="1128.63" y="336.90" font-size="23.20">−2.5</text>
<text x="1242.20" y="336.90" font-size="23.20">0</text>
<text x="1328.24" y="336.90" font-size="23.20">2.5</text>
<text x="1424.77" y="336.90" font-size="23.20">5.0</text>
<text x="1054.07" y="15.80" font-size="22.96">Age of marriage: 26~29</text>
<rect x="1271.8" y="29.3" width="50.1" height="15.4" fill="#d5d2d6"/>
<line x1="1277.0" y1="37.0" x2="1316.8999999999999" y2="37.0" stroke="#c97a38" stroke-width="1.8" stroke-dasharray="4.7 4.35 13.7 4.5 4.5 4.9 14"/>
<rect x="1271.8" y="60.6" width="50.1" height="15.4" fill="#d5d2d6"/>
<line x1="1277.0" y1="68.3" x2="1317.0" y2="68.3" stroke="#449572" stroke-width="1.7"/>
<text x="1332.18" y="42.60" font-size="23.00">Control group</text>
<text x="1333.22" y="75.60" font-size="22.83">Event group</text>
<text x="1118.77" y="367.30" font-size="23.15">Years (centered around event)</text>
<text x="1223.31" y="402.00" font-size="23.16">Female</text>
<text transform="translate(1001.00,248.49) rotate(-90)" x="0" y="0" font-size="23.13">Life Satisfaction</text>
</svg>
</body></html>
